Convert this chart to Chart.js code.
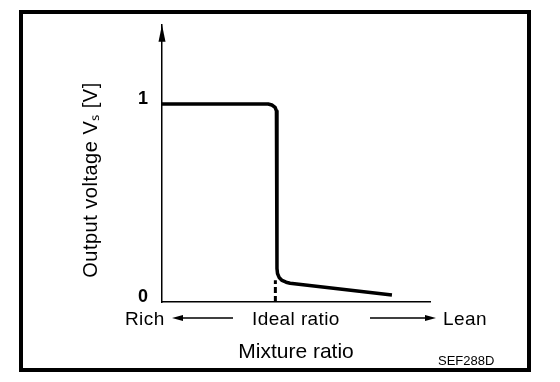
<!DOCTYPE html>
<html>
<head>
<meta charset="utf-8">
<script src="https://cdn.jsdelivr.net/npm/chart.js@4/dist/chart.umd.min.js"></script>
<style>
  html, body { margin: 0; padding: 0; background: #fff; }
  canvas { display: block; }
</style>
</head>
<body>
<canvas id="c" width="560" height="382"></canvas>
<script>
// ---- data ----
const curveX = [0, 39.6, 41.0, 42.2, 42.7, 42.9, 42.9, 43.1, 43.7, 44.8, 46.3, 47.8, 85.8];
const curveY = [1.0, 1.0, 0.995, 0.983, 0.965, 0.943, 0.169, 0.144, 0.124, 0.109, 0.100, 0.095, 0.035];
const dashX = [42.3, 42.3];
const dashY = [0, 0.11];
const yTickValues = [0, 1];
const yTickLabels = ['0', '1'];
const xTitle = 'Mixture ratio';
const yTitle = 'Output voltage V\u209B [V]';
const bottomLabels = ['Rich', 'Ideal ratio', 'Lean'];
const figureCode = 'SEF288D';

const FONT = '"Liberation Sans", Arial, Helvetica, sans-serif';

const toPts = (xs, ys) => xs.map((x, i) => ({ x: x, y: ys[i] }));

function arrowHead(ctx, tipX, tipY, dirX, dirY, len, half) {
  const bx = tipX - dirX * len, by = tipY - dirY * len;
  const px = -dirY, py = dirX;
  ctx.beginPath();
  ctx.moveTo(tipX, tipY);
  ctx.lineTo(bx + px * half, by + py * half);
  ctx.lineTo(bx - px * half, by - py * half);
  ctx.closePath();
  ctx.fill();
}

const decor = {
  id: 'decor',
  afterDraw(chart) {
    const ctx = chart.ctx;
    const a = chart.chartArea;
    ctx.save();
    ctx.fillStyle = '#000';
    ctx.strokeStyle = '#000';
    // frame
    ctx.lineWidth = 4;
    ctx.strokeRect(21, 12, 508, 358);
    // y axis arrow head
    arrowHead(ctx, a.left, a.top, 0, -1, 17, 3.5);
    // y title
    ctx.save();
    ctx.translate(91, 180);
    ctx.rotate(-Math.PI / 2);
    ctx.font = '20px ' + FONT;
    ctx.textAlign = 'center';
    ctx.textBaseline = 'middle';
    ctx.letterSpacing = '0.5px';
    ctx.fillText(yTitle, 0, 0);
    ctx.restore();
    // bottom row
    ctx.font = '19px ' + FONT;
    ctx.textBaseline = 'alphabetic';
    ctx.textAlign = 'left';
    ctx.letterSpacing = '0.4px';
    ctx.fillText(bottomLabels[0], 125, 325);
    ctx.fillText(bottomLabels[1], 252, 325);
    ctx.fillText(bottomLabels[2], 443, 325);
    // arrows
    ctx.lineWidth = 1.5;
    ctx.beginPath();
    ctx.moveTo(233, 318); ctx.lineTo(180, 318);
    ctx.moveTo(370, 318); ctx.lineTo(428, 318);
    ctx.stroke();
    arrowHead(ctx, 172, 318, -1, 0, 11, 3);
    arrowHead(ctx, 436, 318, 1, 0, 11, 3);
    // figure code
    ctx.letterSpacing = '0px';
    ctx.font = '13px ' + FONT;
    ctx.fillText(figureCode, 438, 365);
    ctx.restore();
  }
};

new Chart(document.getElementById('c'), {
  type: 'scatter',
  data: {
    datasets: [
      {
        data: toPts(curveX, curveY),
        showLine: true,
        borderColor: '#000',
        borderWidth: 3.5,
        pointRadius: 0,
        tension: 0,
        borderJoinStyle: 'round',
        clip: false
      },
      {
        data: toPts(dashX, dashY),
        showLine: true,
        borderColor: '#000',
        borderWidth: 3,
        borderDash: [6, 3],
        pointRadius: 0,
        clip: false
      }
    ]
  },
  options: {
    responsive: false,
    animation: false,
    events: [],
    layout: { padding: { left: 0, top: 20, right: 130, bottom: 0 } },
    plugins: { legend: { display: false }, tooltip: { enabled: false } },
    scales: {
      x: {
        type: 'linear',
        min: 0,
        max: 100,
        grid: { display: false, drawTicks: false },
        border: { display: true, color: '#000', width: 1.5 },
        ticks: { display: false },
        title: {
          display: true,
          text: xTitle,
          color: '#000',
          font: { family: FONT, size: 21 },
          padding: { top: 0, bottom: 17 }
        },
        afterFit(scale) { scale.height = 80; }
      },
      y: {
        type: 'linear',
        min: 0,
        max: 1.4,
        grid: { display: false, drawTicks: false },
        border: { display: true, color: '#000', width: 1.5 },
        afterBuildTicks(scale) { scale.ticks = yTickValues.map(v => ({ value: v })); },
        ticks: {
          color: '#000',
          padding: 14,
          labelOffset: -5,
          font: { family: FONT, size: 18, weight: 'bold' },
          callback(value) { const i = yTickValues.indexOf(value); return i >= 0 ? yTickLabels[i] : ''; }
        },
        afterFit(scale) { scale.width = 162; }
      }
    }
  },
  plugins: [decor]
});
</script>
</body>
</html>
